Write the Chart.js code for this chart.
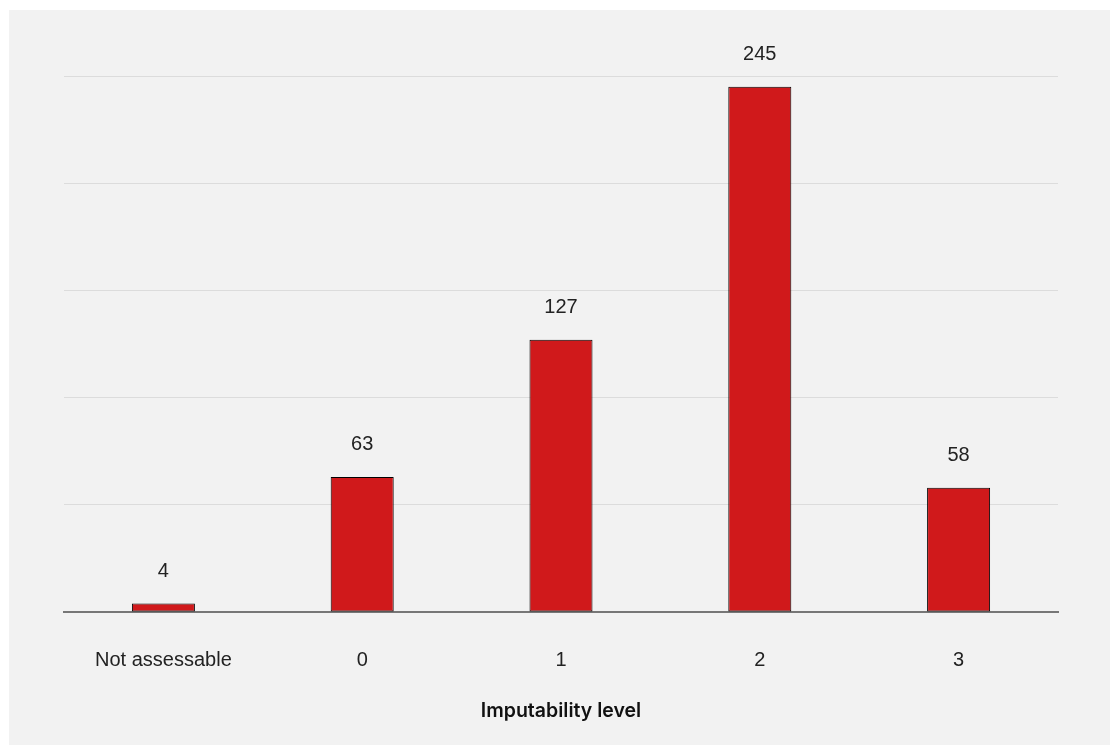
<!DOCTYPE html>
<html>
<head>
<meta charset="utf-8">
<script src="https://cdn.jsdelivr.net/npm/chart.js@4"></script>
<style>
  html, body { margin: 0; padding: 0; background: #ffffff; }
  #wrap { position: absolute; left: 9px; top: 10px; width: 1101px; height: 735px; background: #f2f2f2; }
</style>
</head>
<body>
<div id="wrap"><canvas id="chart"></canvas></div>
<script>
var categories = ['Not assessable', '0', '1', '2', '3'];
var counts = [4, 63, 127, 245, 58];
var axisTitle = 'Imputability level';

var FONT = '"Liberation Sans", Arial, sans-serif';

// value labels above bars and the axis title under the tick labels
var extraText = {
    id: 'extraText',
    afterDatasetsDraw: function (chart) {
        var ctx = chart.ctx;
        var meta = chart.getDatasetMeta(0);
        ctx.save();
        ctx.font = '20px ' + FONT;
        ctx.fillStyle = '#222222';
        ctx.textAlign = 'center';
        ctx.textBaseline = 'middle';
        meta.data.forEach(function (bar, i) {
            ctx.fillText(String(counts[i]), bar.x, bar.y - 32);
        });
        var area = chart.chartArea;
        ctx.font = '600 19.5px Inter, ' + FONT;
        ctx.fillStyle = '#111111';
        ctx.fillText(axisTitle, (area.left + area.right) / 2, area.bottom + 99);
        ctx.restore();
    }
};

var ctx = document.getElementById('chart').getContext('2d');
new Chart(ctx, {
    type: 'bar',
    data: {
        labels: categories,
        datasets: [{
            data: counts,
            backgroundColor: '#d0191b',
            borderColor: '#000000',
            borderWidth: 1,
            borderSkipped: false,
            categoryPercentage: 1,
            barPercentage: 0.317
        }]
    },
    options: {
        responsive: true,
        maintainAspectRatio: false,
        animation: false,
        layout: { padding: { left: 55, right: 52, top: 66, bottom: 10 } },
        plugins: {
            legend: { display: false },
            tooltip: { enabled: false }
        },
        scales: {
            x: {
                grid: { display: false },
                border: { color: '#777777', width: 2 },
                ticks: {
                    color: '#222222',
                    padding: 28,
                    font: { family: FONT, size: 20 }
                },
                afterFit: function (scale) { scale.height = 123; }
            },
            y: {
                min: 0,
                max: 250,
                ticks: { display: false, stepSize: 50 },
                grid: { color: '#dcdcdc', lineWidth: 1, drawTicks: false },
                border: { display: false }
            }
        }
    },
    plugins: [extraText]
});
</script>
</body>
</html>
